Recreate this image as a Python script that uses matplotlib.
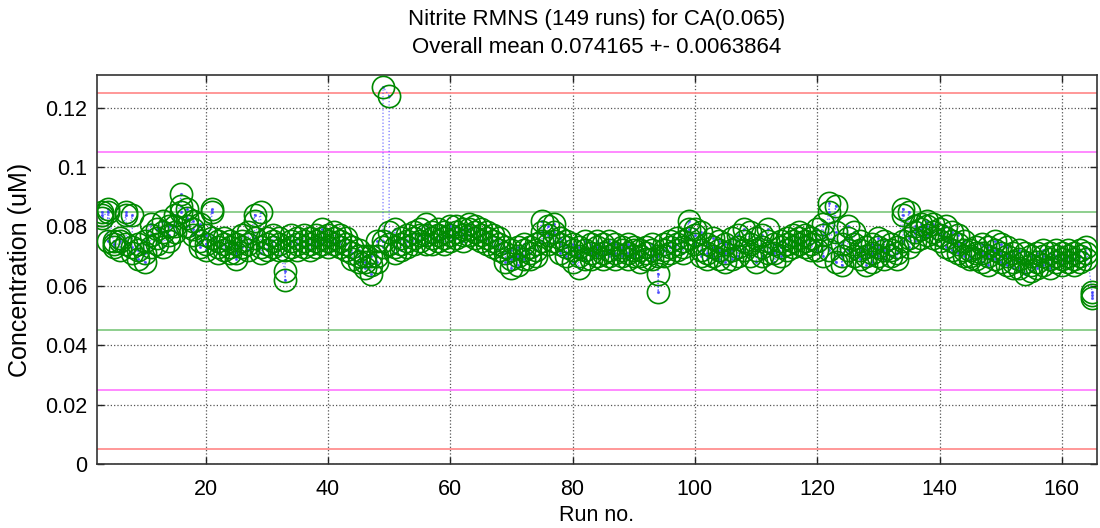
import matplotlib
matplotlib.use("Agg")
import matplotlib.pyplot as plt
import numpy as np

plt.rcParams['font.family'] = ['Liberation Sans', 'DejaVu Sans']

title_lines = ["Nitrite RMNS (149 runs) for CA(0.065)", "Overall mean 0.074165 +- 0.0063864"]
x_label = "Run no."
y_label = "Concentration (uM)"

run_no = list(range(3, 166))

rep_a = [0.085, 0.085, 0.074, 0.075, 0.084, 0.084, 0.072, 0.068, 0.081, 0.076,
         0.082, 0.080, 0.084, 0.091, 0.086, 0.082, 0.081, 0.077, 0.086, 0.075,
         0.074, 0.073, 0.071, 0.077, 0.078, 0.084, 0.085, 0.076, 0.075, 0.074,
         0.065, 0.075, 0.074, 0.073, 0.076, 0.075, 0.079, 0.077, 0.076, 0.075,
         0.074, 0.071, 0.072, 0.066, 0.064, 0.070, 0.075, 0.124, 0.079, 0.072,
         0.075, 0.076, 0.077, 0.081, 0.078, 0.077, 0.076, 0.080, 0.078, 0.077,
         0.079, 0.078, 0.077, 0.076, 0.075, 0.074, 0.071, 0.069, 0.070, 0.072,
         0.071, 0.070, 0.082, 0.080, 0.081, 0.071, 0.073, 0.068, 0.066, 0.072,
         0.074, 0.073, 0.071, 0.072, 0.074, 0.073, 0.071, 0.072, 0.070, 0.073,
         0.072, 0.064, 0.072, 0.073, 0.074, 0.075, 0.082, 0.079, 0.078, 0.071,
         0.073, 0.075, 0.074, 0.072, 0.077, 0.079, 0.078, 0.076, 0.077, 0.079,
         0.074, 0.073, 0.074, 0.075, 0.076, 0.077, 0.076, 0.079, 0.081, 0.088,
         0.087, 0.074, 0.080, 0.078, 0.075, 0.073, 0.074, 0.076, 0.075, 0.072,
         0.073, 0.086, 0.085, 0.078, 0.079, 0.080, 0.081, 0.079, 0.080, 0.078,
         0.077, 0.075, 0.070, 0.069, 0.074, 0.073, 0.072, 0.071, 0.070, 0.071,
         0.069, 0.068, 0.070, 0.071, 0.070, 0.069, 0.070, 0.069, 0.070, 0.071,
         0.070, 0.071, 0.057]

rep_b = [0.084, 0.075, 0.075, 0.072, 0.085, 0.073, 0.074, 0.071, 0.077, 0.074,
         0.078, 0.075, 0.080, 0.087, 0.083, 0.079, 0.075, 0.074, 0.085, 0.073,
         0.072, 0.071, 0.074, 0.073, 0.074, 0.082, 0.073, 0.074, 0.073, 0.076,
         0.062, 0.073, 0.076, 0.075, 0.074, 0.077, 0.076, 0.075, 0.074, 0.073,
         0.076, 0.073, 0.068, 0.068, 0.067, 0.068, 0.073, 0.078, 0.073, 0.074,
         0.073, 0.074, 0.075, 0.077, 0.076, 0.075, 0.078, 0.077, 0.076, 0.079,
         0.077, 0.076, 0.075, 0.074, 0.073, 0.072, 0.068, 0.066, 0.067, 0.069,
         0.073, 0.072, 0.078, 0.077, 0.078, 0.074, 0.070, 0.072, 0.070, 0.075,
         0.071, 0.070, 0.074, 0.070, 0.071, 0.070, 0.069, 0.070, 0.072, 0.071,
         0.069, 0.058, 0.074, 0.075, 0.072, 0.073, 0.079, 0.077, 0.072, 0.074,
         0.070, 0.072, 0.071, 0.076, 0.073, 0.075, 0.074, 0.072, 0.073, 0.075,
         0.071, 0.070, 0.072, 0.073, 0.074, 0.075, 0.074, 0.075, 0.077, 0.085,
         0.078, 0.070, 0.076, 0.074, 0.072, 0.070, 0.071, 0.073, 0.072, 0.070,
         0.071, 0.084, 0.076, 0.075, 0.076, 0.077, 0.078, 0.077, 0.076, 0.075,
         0.074, 0.072, 0.072, 0.071, 0.071, 0.070, 0.069, 0.068, 0.067, 0.068,
         0.066, 0.064, 0.067, 0.068, 0.067, 0.066, 0.068, 0.067, 0.068, 0.069,
         0.068, 0.069, 0.058]

rep_c = [0.083, 0.086, 0.073, 0.076, 0.074, 0.071, 0.069, 0.075, 0.073, 0.079,
         0.073, 0.077, 0.078, 0.085, 0.080, 0.077, 0.073, 0.072, 0.076, 0.071,
         0.076, 0.075, 0.069, 0.075, 0.072, 0.076, 0.071, 0.072, 0.077, 0.072,
         0.072, 0.077, 0.072, 0.077, 0.072, 0.073, 0.074, 0.073, 0.078, 0.077,
         0.072, 0.069, 0.070, 0.070, 0.070, 0.075, 0.127, 0.074, 0.071, 0.076,
         0.077, 0.078, 0.079, 0.074, 0.074, 0.079, 0.074, 0.075, 0.080, 0.075,
         0.081, 0.080, 0.079, 0.078, 0.077, 0.076, 0.073, 0.072, 0.073, 0.074,
         0.069, 0.074, 0.075, 0.074, 0.075, 0.076, 0.075, 0.074, 0.073, 0.069,
         0.069, 0.075, 0.069, 0.075, 0.069, 0.072, 0.074, 0.073, 0.068, 0.069,
         0.074, 0.070, 0.070, 0.071, 0.076, 0.071, 0.076, 0.074, 0.070, 0.069,
         0.076, 0.069, 0.068, 0.069, 0.070, 0.072, 0.070, 0.068, 0.070, 0.071,
         0.068, 0.075, 0.076, 0.077, 0.078, 0.073, 0.072, 0.072, 0.070, 0.072,
         0.068, 0.067, 0.072, 0.070, 0.069, 0.067, 0.068, 0.070, 0.069, 0.074,
         0.069, 0.075, 0.073, 0.080, 0.081, 0.082, 0.076, 0.075, 0.073, 0.072,
         0.071, 0.070, 0.069, 0.073, 0.068, 0.067, 0.075, 0.074, 0.073, 0.066,
         0.072, 0.071, 0.065, 0.066, 0.072, 0.071, 0.072, 0.071, 0.072, 0.067,
         0.072, 0.073, 0.056]

nominal = 0.065
limit_offsets = [0.02, 0.04, 0.06]
limit_colors = ['#86cc86', '#ff80ff', '#ff9090']

x_ticks = [20, 40, 60, 80, 100, 120, 140, 160]
y_ticks = [0, 0.02, 0.04, 0.06, 0.08, 0.1, 0.12]
y_tick_labels = ["0", "0.02", "0.04", "0.06", "0.08", "0.1", "0.12"]

fig = plt.figure(figsize=(11, 5.28), dpi=100)
ax = fig.add_axes([0.088, 0.121, 0.909, 0.737])

# sequence of measurements (for the dotted connecting line)
seq_x, seq_y = [], []
for r, a, b, c in zip(run_no, rep_a, rep_b, rep_c):
    seq_x += [r, r, r]
    seq_y += [a, b, c]

for off, col in zip(limit_offsets, limit_colors):
    ax.axhline(nominal + off, color=col, lw=1.3, zorder=2)
    ax.axhline(nominal - off, color=col, lw=1.3, zorder=2)

ax.plot(seq_x, seq_y, ls=':', color='#3a3aff', lw=0.9, alpha=0.7,
        marker='.', ms=2.5, zorder=3)
ax.plot(seq_x, seq_y, ls='none', marker='o', ms=16, mfc='none',
        mec='#008a00', mew=1.2, zorder=4)

ax.set_xlim(2.2, 165.7)
ax.set_ylim(0, 0.131)
ax.set_xticks(x_ticks)
ax.set_yticks(y_ticks)
ax.set_yticklabels(y_tick_labels)
ax.grid(True, ls=':', color='#555555', lw=0.9)
ax.set_axisbelow(True)
ax.tick_params(direction='in', length=5, width=1, top=True, right=True,
               labelsize=15.5, colors='#222222', labelcolor='black')
ax.tick_params(axis='x', pad=11)
ax.tick_params(axis='y', pad=7)
for s in ax.spines.values():
    s.set_color('#333333')
    s.set_linewidth(1.2)

ax.set_xlabel(x_label, fontsize=15.5, labelpad=3)
ax.set_ylabel(y_label, fontsize=18, labelpad=9)
ax.set_title(title_lines[0] + "\n" + title_lines[1], fontsize=16, pad=16,
             linespacing=1.45)

fig.savefig("out.png", dpi=100)
